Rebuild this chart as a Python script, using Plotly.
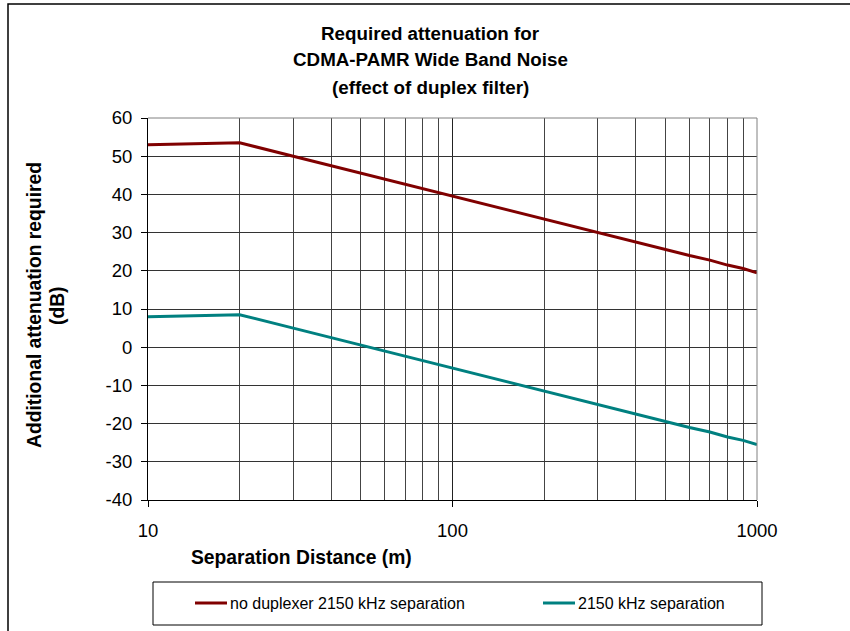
import plotly.graph_objects as go

# Separation distance (m)
distance = [10, 20, 30, 40, 50, 60, 70, 80, 90, 100,
            200, 300, 400, 500, 600, 700, 800, 900, 1000]

# Additional attenuation required (dB)
no_duplexer = [53.0, 53.5, 50.0, 47.5, 45.5, 44.0, 42.6, 41.4, 40.4, 39.5,
               33.5, 30.0, 27.5, 25.5, 24.0, 22.8, 21.5, 20.6, 19.5]
with_duplexer = [8.0, 8.5, 5.0, 2.5, 0.5, -1.0, -2.4, -3.6, -4.6, -5.5,
                 -11.5, -15.0, -17.5, -19.5, -21.0, -22.2, -23.5, -24.4, -25.5]

series_names = ["no duplexer 2150 kHz separation", "2150 kHz separation"]
series_colors = ["#800000", "#008080"]

x_ticks = [10, 100, 1000]
y_ticks = [-40, -30, -20, -10, 0, 10, 20, 30, 40, 50, 60]
title_lines = ["Required attenuation for", "CDMA-PAMR Wide Band Noise",
               "(effect of duplex filter)"]

FONT = "Liberation Sans, Arial, sans-serif"

# Plot-area geometry in pixels (page is 850 x 631)
W, H = 850, 631
L, R, T, B = 148, 93, 118, 131
pw, ph = W - L - R, H - T - B


def px(x):
    return (x - L) / pw


def py(y):
    return 1 - (y - T) / ph


fig = go.Figure()
for ys, name, col in zip([no_duplexer, with_duplexer], series_names, series_colors):
    fig.add_trace(go.Scatter(x=distance, y=ys, mode="lines", name=name,
                             line=dict(color=col, width=3), showlegend=False))

fig.update_layout(
    width=W, height=H,
    margin=dict(l=L, r=R, t=T, b=B),
    paper_bgcolor="white", plot_bgcolor="white",
    font=dict(family=FONT, size=18.5, color="black"),
    showlegend=False,
)

fig.update_xaxes(
    type="log", range=[1, 3],
    tickvals=x_ticks, ticktext=[str(v) for v in x_ticks],
    ticks="outside", ticklen=6, tickcolor="black",
    showline=True, linecolor="black", linewidth=1, mirror=False,
    showgrid=True, gridcolor="#222222", gridwidth=1,
    minor=dict(showgrid=True, gridcolor="#444444", gridwidth=1,
               tickvals=[20, 30, 40, 50, 60, 70, 80, 90,
                         200, 300, 400, 500, 600, 700, 800, 900]),
    tickfont=dict(size=18.5), zeroline=False, ticklabelstandoff=8,
)
fig.update_yaxes(
    range=[-40, 60], tickvals=y_ticks, ticktext=[str(v) for v in y_ticks],
    ticks="outside", ticklen=6, tickcolor="black",
    showline=True, linecolor="black", linewidth=1,
    showgrid=True, gridcolor="#333333", gridwidth=1,
    tickfont=dict(size=18.5), zeroline=False, ticklabelstandoff=5,
)

shapes = []
annotations = []

# Plot-area border on top and right
shapes.append(dict(type="line", xref="paper", yref="paper", x0=0, x1=1, y0=1, y1=1,
                   line=dict(color="#808080", width=1)))
shapes.append(dict(type="line", xref="paper", yref="paper", x0=1, x1=1, y0=0, y1=1,
                   line=dict(color="#808080", width=1)))

# Chart frame
shapes.append(dict(type="rect", xref="paper", yref="paper",
                   x0=px(8), x1=px(853), y0=py(634), y1=py(4),
                   line=dict(color="black", width=1.5), fillcolor="rgba(0,0,0,0)",
                   layer="below"))

# Title, one line per annotation for Excel-like line spacing
for i, line in enumerate(title_lines):
    annotations.append(dict(
        text="<b>" + line + "</b>", xref="paper", yref="paper",
        x=px(430), y=py(33 + 27 * i), xanchor="center", yanchor="middle",
        showarrow=False, font=dict(size=18.8, family=FONT)))

# Axis titles
annotations.append(dict(
    text="<b>Separation Distance (m)</b>", xref="paper", yref="paper",
    x=px(301), y=py(557), xanchor="center", yanchor="middle", showarrow=False,
    font=dict(size=19.3, family=FONT)))
annotations.append(dict(
    text="<b>Additional attenuation required</b>", xref="paper", yref="paper",
    x=px(34), y=py(305), xanchor="center", yanchor="middle", showarrow=False,
    textangle=-90, font=dict(size=19.3, family=FONT)))
annotations.append(dict(
    text="<b>(dB)</b>", xref="paper", yref="paper",
    x=px(57), y=py(305), xanchor="center", yanchor="middle", showarrow=False,
    textangle=-90, font=dict(size=19.3, family=FONT)))

# Legend box
shapes.append(dict(type="rect", xref="paper", yref="paper",
                   x0=px(153), x1=px(762), y0=py(625), y1=py(582),
                   line=dict(color="black", width=1), fillcolor="white"))
legend_pos = [(195, 228), (543, 576)]
for (x0, tx), name, col in zip(legend_pos, series_names, series_colors):
    shapes.append(dict(type="line", xref="paper", yref="paper",
                       x0=px(x0), x1=px(x0 + 32), y0=py(603), y1=py(603),
                       line=dict(color=col, width=3)))
    annotations.append(dict(text=name, xref="paper", yref="paper",
                            x=px(tx), y=py(603), xanchor="left", yanchor="middle",
                            showarrow=False, font=dict(size=16, family=FONT)))

fig.update_layout(shapes=shapes, annotations=annotations)

fig.write_html("out.html")
